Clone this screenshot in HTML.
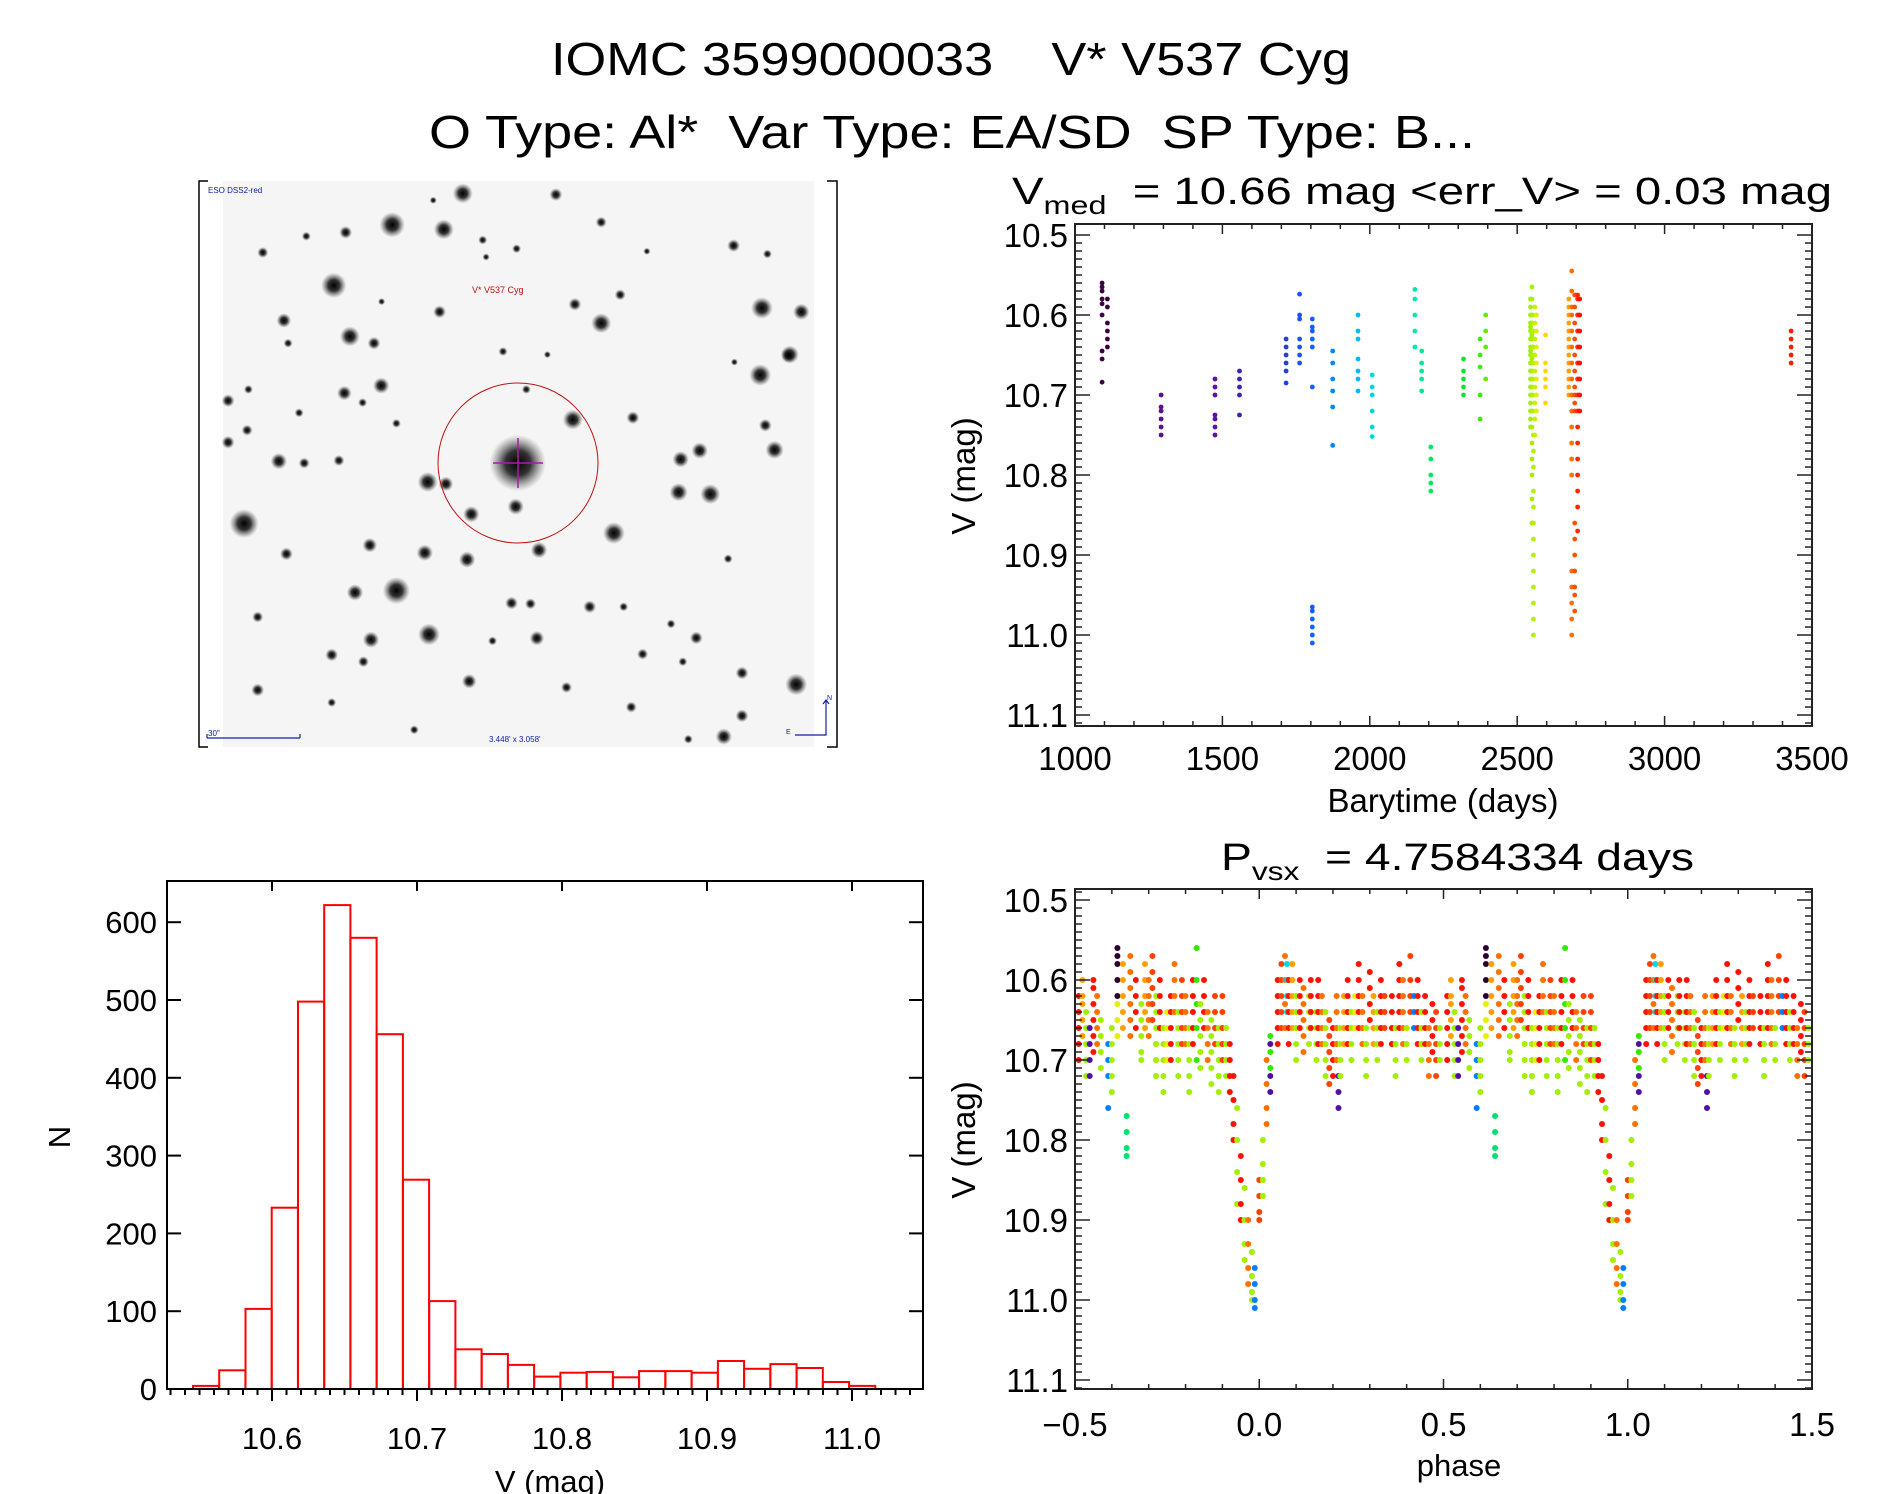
<!DOCTYPE html>
<html><head><meta charset="utf-8"><style>
html,body{margin:0;padding:0;background:#fff;}
svg{display:block;font-family:"Liberation Sans",sans-serif;}
</style></head><body>
<svg id="root" width="1889" height="1494" viewBox="0 0 1889 1494" xmlns="http://www.w3.org/2000/svg">
<defs>
<radialGradient id="starG"><stop offset="0" stop-color="#000" stop-opacity="1"/><stop offset="0.45" stop-color="#111" stop-opacity="0.85"/><stop offset="1" stop-color="#555" stop-opacity="0"/></radialGradient>
</defs>
<text x="551" y="75" font-size="46" textLength="800" lengthAdjust="spacingAndGlyphs">IOMC 3599000033&#160;&#160;&#160;&#160;V* V537 Cyg</text>
<text x="429" y="148" font-size="46" textLength="1046" lengthAdjust="spacingAndGlyphs">O Type: Al*&#160;&#160;Var Type: EA/SD&#160;&#160;SP Type: B...</text>
<g id="img"></g>
<g id="lc"></g>
<g id="hist"></g>
<g id="ph"></g>
</svg>
<script>
// ---------- data ----------
const lcGroupTimes = [1092,1110,1292,1475,1558,1716,1762,1805,1805,1874,1960,2008,2153,2176,2207,2318,2374,2393,2545,2550,2555,2560,2565,2596,2675,2685,2695,2705,2712,3429];
const lcGroupMags = [
 [10.56,10.565,10.57,10.58,10.586,10.60,10.645,10.655,10.684],
 [10.58,10.59,10.61,10.62,10.63,10.64],
 [10.70,10.715,10.72,10.73,10.74,10.75],
 [10.68,10.69,10.70,10.725,10.73,10.74,10.75],
 [10.67,10.68,10.69,10.70,10.725],
 [10.63,10.64,10.65,10.66,10.67,10.685],
 [10.574,10.60,10.605,10.63,10.64,10.65,10.66],
 [10.605,10.615,10.62,10.63,10.64,10.69],
 [10.965,10.97,10.98,10.99,11.0,11.01],
 [10.645,10.66,10.68,10.695,10.715,10.763],
 [10.60,10.62,10.63,10.655,10.67,10.68,10.695],
 [10.675,10.69,10.70,10.72,10.74,10.752],
 [10.568,10.58,10.60,10.62,10.64],
 [10.645,10.66,10.67,10.68,10.695],
 [10.765,10.78,10.80,10.81,10.82],
 [10.655,10.67,10.68,10.69,10.70],
 [10.63,10.65,10.665,10.70,10.73],
 [10.60,10.62,10.64,10.68],
 [10.58,10.59,10.6,10.61,10.615,10.62,10.63,10.64,10.645,10.65,10.66,10.67,10.68,10.69,10.7,10.71,10.72,10.73,10.74],
 [10.565,10.58,10.6,10.61,10.62,10.625,10.63,10.64,10.65,10.655,10.66,10.67,10.68,10.69,10.7,10.72,10.74,10.76,10.78,10.8,10.83,10.86],
 [10.6,10.62,10.64,10.66,10.68,10.7,10.72,10.75,10.77,10.79,10.82,10.84,10.86,10.88,10.9,10.92,10.94,10.96,10.98,11.0],
 [10.59,10.61,10.63,10.65,10.67,10.69,10.71,10.73,10.75],
 [10.6,10.62,10.64,10.66,10.68,10.7,10.72],
 [10.625,10.66,10.67,10.68,10.69,10.71],
 [10.58,10.59,10.6,10.61,10.62,10.63,10.64,10.65,10.66,10.67,10.68,10.69,10.7],
 [10.545,10.57,10.59,10.6,10.62,10.64,10.66,10.68,10.7,10.72,10.74,10.76,10.78,10.8,10.92,10.94,10.96,10.98,11.0],
 [10.575,10.59,10.61,10.63,10.65,10.67,10.69,10.7,10.71,10.72,10.86,10.88,10.9,10.92,10.94,10.95,10.97],
 [10.575,10.58,10.6,10.62,10.64,10.66,10.68,10.7,10.72,10.74,10.76,10.78,10.8,10.82,10.84,10.87],
 [10.58,10.6,10.62,10.64,10.66,10.68,10.7,10.72],
 [10.62,10.63,10.64,10.65,10.66]
];
const lcGroupColor = ["#3a0040","#3a0040","#5a1090","#6010a0","#4020b0","#2040e0","#2050f0","#1060ff","#1060ff","#0088ff","#00b8ff","#00d8e0","#00e8b0","#00e890","#00e860","#10e830","#40e810","#60e800","#9ef000","#a8f000","#b0f000","#c8f000","#e0f000","#ffd800","#ffa000","#ff7000","#ff5000","#ff2800","#ff1000","#ff1a00"];
const lcXTicks = [1000,1500,2000,2500,3000,3500];
const magTicks = [10.5,10.6,10.7,10.8,10.9,11.0,11.1];
const magTickLabels = ["10.5","10.6","10.7","10.8","10.9","11.0","11.1"];

const phPalette = ["#2a0030","#5010a0","#2030e0","#0080ff","#00d8e8","#00e070","#30e800","#a0f000","#e8f000","#ffa000","#ff7000","#ff4000","#ff1000"];
const phStreakPhase = [-0.49,-0.48,-0.47,-0.46,-0.45,-0.44,-0.43,-0.41,-0.40,-0.385,-0.385,-0.37,-0.36,-0.35,-0.335,-0.32,-0.31,-0.30,-0.29,-0.28,-0.27,-0.26,-0.25,-0.24,-0.23,-0.22,-0.21,-0.20,-0.19,-0.18,-0.17,-0.16,-0.15,-0.14,-0.13,-0.12,-0.11,-0.10,-0.09,-0.08,-0.07,-0.06,-0.05,-0.04,-0.03,-0.02,-0.012,0.0,0.01,0.02,0.03,0.03,0.05,0.06,0.07,0.075,0.08,0.09,0.10,0.11,0.12,0.135,0.14,0.155,0.16,0.17,0.18,0.19,0.20,0.21,0.215,0.22,0.23,0.24,0.25,0.26,0.27,0.28,0.29,0.30,0.31,0.32,0.33,0.34,0.36,0.37,0.38,0.39,0.40,0.41,0.42,0.43,0.44,0.45,0.46,0.47,0.48,0.49];
const phStreakMags = [
[10.62,10.64,10.66,10.68,10.7],[10.6,10.62,10.63,10.65,10.67],[10.64,10.66,10.68,10.7,10.72],[10.66,10.68,10.7,10.72],
[10.6,10.61,10.63,10.65,10.67,10.69],[10.62,10.64,10.66,10.68],[10.65,10.67,10.69,10.71],[10.68,10.7,10.72,10.76],
[10.66,10.68,10.7,10.72,10.74],[10.56,10.57,10.58,10.6,10.62],[10.63,10.65,10.67],[10.58,10.6,10.62,10.64,10.66],
[10.77,10.79,10.81,10.82],[10.57,10.59,10.61,10.63,10.65,10.67],[10.6,10.62,10.64,10.66],[10.63,10.65,10.67,10.69,10.7],
[10.58,10.6,10.62,10.64,10.66],[10.6,10.62,10.63,10.65,10.67],[10.57,10.59,10.61,10.63,10.65],[10.62,10.64,10.66,10.68,10.7,10.72],
[10.6,10.62,10.64,10.66],[10.66,10.68,10.7,10.72,10.74],[10.64,10.66,10.68,10.7],[10.62,10.64,10.66,10.68,10.7],
[10.58,10.6,10.62,10.64],[10.64,10.66,10.68,10.7,10.72],[10.6,10.62,10.64,10.66,10.68],[10.62,10.64,10.66,10.68],
[10.66,10.68,10.7,10.72,10.74],[10.6,10.62,10.64,10.66,10.68],[10.56,10.6,10.63,10.66,10.7],[10.63,10.65,10.67,10.69,10.71],
[10.6,10.62,10.64,10.66],[10.64,10.66,10.68,10.7],[10.65,10.67,10.69,10.71,10.73],[10.62,10.64,10.66,10.68],
[10.66,10.68,10.7,10.72,10.74],[10.62,10.64,10.66,10.68,10.7],[10.66,10.68,10.7,10.72],[10.68,10.7,10.72,10.74],
[10.72,10.75,10.78,10.8],[10.76,10.8,10.84,10.88],[10.82,10.85,10.88,10.9],[10.86,10.9,10.93,10.95],
[10.9,10.93,10.96,10.98],[10.94,10.97,10.99,11.0],[10.96,10.98,11.0,11.01],[10.85,10.87,10.89,10.9],
[10.8,10.83,10.85,10.87],[10.7,10.73,10.76,10.78],[10.67,10.69,10.71],[10.68,10.72,10.74],
[10.6,10.62,10.64,10.66,10.68],[10.58,10.6,10.62,10.64,10.66],[10.57,10.6,10.63,10.66],[10.58,10.6,10.62,10.64],
[10.6,10.62,10.64,10.66,10.68],[10.58,10.6,10.62,10.64,10.66],[10.62,10.64,10.66,10.68,10.7],[10.6,10.62,10.64,10.66],
[10.61,10.63,10.65,10.67,10.69],[10.62,10.64,10.66,10.68],[10.6,10.62,10.64,10.66],[10.64,10.66,10.68,10.7],
[10.6,10.62,10.64,10.66,10.68],[10.62,10.64,10.66,10.68],[10.64,10.66,10.68,10.7,10.72],[10.65,10.67,10.69,10.71,10.73],
[10.66,10.68,10.7,10.72],[10.62,10.64,10.66,10.68,10.7],[10.72,10.74,10.76],[10.66,10.68,10.7,10.72],
[10.62,10.64,10.66,10.68],[10.6,10.62,10.64,10.66,10.68],[10.64,10.66,10.68,10.7],[10.62,10.64,10.66],
[10.58,10.6,10.62,10.64,10.66],[10.62,10.64,10.66,10.68],[10.66,10.68,10.7,10.72],[10.59,10.61,10.63,10.65],
[10.62,10.64,10.66,10.68],[10.64,10.66,10.68,10.7],[10.6,10.62,10.64,10.66,10.68],[10.62,10.64,10.66],
[10.62,10.64,10.66,10.68],[10.66,10.68,10.7,10.72],[10.58,10.6,10.62,10.64,10.66],[10.6,10.62,10.64,10.66,10.68],
[10.66,10.68,10.7],[10.57,10.6,10.62,10.64],[10.62,10.64,10.66],[10.6,10.62,10.64,10.66,10.68],
[10.64,10.66,10.68,10.7],[10.62,10.64,10.66,10.68],[10.66,10.68,10.7,10.72],[10.63,10.65,10.67,10.69],
[10.64,10.66,10.68,10.7,10.72],[10.66,10.68,10.7]
];
const phStreakColor = [12,9,7,1,12,10,7,3,7,0,8,9,5,10,12,7,9,10,11,7,12,7,8,12,10,7,11,10,7,12,6,7,12,10,7,11,7,11,7,12,12,7,12,7,10,7,3,11,7,10,6,1,12,11,10,4,12,9,7,12,10,7,12,7,12,10,7,11,12,10,1,7,9,12,7,8,12,10,7,12,9,7,12,11,12,7,12,10,7,11,3,12,7,12,10,12,11,7];
const phXTicks = [-0.5,0.0,0.5,1.0,1.5];
const phXTickLabels = ["\u22120.5","0.0","0.5","1.0","1.5"];

const histStart = 10.5455, histWidth = 0.0181;
const histCounts = [4,24,103,233,498,622,580,456,269,113,51,45,31,16,21,22,15,23,23,21,36,26,32,27,9,4];
const histXTicks = [10.6,10.7,10.8,10.9,11.0];
const histXTickLabels = ["10.6","10.7","10.8","10.9","11.0"];
const histYTicks = [0,100,200,300,400,500,600];

// ---------- helpers ----------
const NS="http://www.w3.org/2000/svg";
function mk(tag, parent){const e=document.createElementNS(NS,tag);parent.appendChild(e);return e;}
function line(p,x1,y1,x2,y2,col,w){const l=mk('line',p);l.setAttribute('x1',x1);l.setAttribute('y1',y1);l.setAttribute('x2',x2);l.setAttribute('y2',y2);l.setAttribute('stroke',col);l.setAttribute('stroke-width',w);return l;}
function txt(p,x,y,s,size,anchor){const t=mk('text',p);t.setAttribute('x',x);t.setAttribute('y',y);t.setAttribute('font-size',size);t.setAttribute('text-anchor',anchor||'start');t.textContent=s;return t;}
function frame(p,x0,y0,x1,y1,w,col){const r=mk('rect',p);r.setAttribute('x',x0);r.setAttribute('y',y0);r.setAttribute('width',x1-x0);r.setAttribute('height',y1-y0);r.setAttribute('fill','none');r.setAttribute('stroke',col);r.setAttribute('stroke-width',w);return r;}

// ---------- sky image ----------
(function(){
 const g=document.getElementById('img');
 const bg=mk('rect',g);bg.setAttribute('x',223);bg.setAttribute('y',181);bg.setAttribute('width',591);bg.setAttribute('height',566);bg.setAttribute('fill','#f5f5f5');
 
 
 const fl=mk('path',g);fl.setAttribute('d','M208 181 H199 V747 H208 M827 181 H837 V747 H827');fl.setAttribute('fill','none');fl.setAttribute('stroke','#000');fl.setAttribute('stroke-width',1.5);
 
 
 const stars=[[645,62,22],[478,145,28],[600,157,22],[865,65,14],[972,138,12],[340,305,28],[368,165,14],[275,175,10],[172,218,12],[692,185,10],[772,208,10],[700,230,8],[1285,200,14],[1365,222,10],[1080,215,8],[1352,365,24],[1445,375,18],[1017,330,12],[910,355,14],[972,405,22],[590,375,14],[453,348,8],[222,398,16],[378,440,22],[435,458,14],[232,458,10],[1418,488,20],[1348,542,24],[740,480,10],[845,488,8],[1287,508,8],[365,590,16],[452,570,18],[408,615,10],[138,580,10],[90,610,14],[258,642,10],[135,688,12],[90,720,14],[488,670,10],[795,580,10],[1047,655,14],[1360,675,14],[905,660,22],[1205,742,18],[1160,765,18],[1382,740,20],[210,770,18],[270,775,12],[352,768,12],[562,825,22],[605,830,16],[1155,852,20],[1230,857,22],[770,890,18],[665,910,18],[1002,960,24],[128,935,32],[425,992,16],[555,1012,18],[655,1030,18],[825,1005,18],[228,1015,14],[1272,1028,10],[488,1112,30],[390,1117,18],[760,1145,14],[805,1147,12],[945,1155,14],[1025,1155,10],[160,1182,12],[1137,1200,10],[565,1228,24],[428,1242,18],[820,1238,16],[715,1245,10],[1197,1237,14],[335,1282,14],[410,1300,12],[1070,1280,12],[1165,1300,10],[1305,1330,14],[660,1352,16],[890,1368,12],[160,1375,14],[1433,1360,24],[335,1408,10],[1043,1420,12],[1305,1443,14],[530,1480,10],[1262,1498,18],[1178,1505,10],[575,80,8],[1415,490,16],[775,775,62]];
 stars.forEach(s=>{
  const c=mk('circle',g);c.setAttribute('cx',(190+s[0]/2.364).toFixed(1));c.setAttribute('cy',(170+s[1]/2.644).toFixed(1));c.setAttribute('r',(s[2]/2.2).toFixed(1));c.setAttribute('fill','url(#starG)');
  
  
 });
 const cx=518,cy=463;
 const circ=mk('ellipse',g);circ.setAttribute('cx',cx);circ.setAttribute('cy',cy);circ.setAttribute('rx',80);circ.setAttribute('ry',80);circ.setAttribute('fill','none');circ.setAttribute('stroke','#c01010');circ.setAttribute('stroke-width',1);
 
 
 line(g,cx-25,cy,cx+25,cy,'#a020a0',1.5);line(g,cx,cy-25,cx,cy+25,'#a020a0',1.5);
 let t=txt(g,208,193,'ESO DSS2-red',8);t.setAttribute('fill','#1020a0');
 
 
 t=txt(g,472,293,'V* V537 Cyg',9);t.setAttribute('fill','#c01010');
 
 
 t=txt(g,489,742,"3.448' x 3.058'",8);t.setAttribute('fill','#1020a0');
 
 
 t=txt(g,208,736,'30"',8);t.setAttribute('fill','#1020a0');
 
 
 line(g,207,738,300,738,'#1020a0',1.2);line(g,207,734,207,738,'#1020a0',1.2);line(g,300,734,300,738,'#1020a0',1.2);
 const cp=mk('path',g);cp.setAttribute('d','M795 735 H826 V700 M823 704 L826 700 L829 704');cp.setAttribute('fill','none');cp.setAttribute('stroke','#1020a0');cp.setAttribute('stroke-width',1.2);
 
 
 t=txt(g,827,700,'N',7);t.setAttribute('fill','#1020a0');
 t=txt(g,786,734,'E',7);t.setAttribute('fill','#1020a0');
})();

// ---------- light curve ----------
(function(){
 const g=document.getElementById('lc');
 const X0=1075,X1=1812,Y0=224,Y1=726;
 const xT=t=>X0+(t-1000)/2500*(X1-X0);
 const yM=m=>235+(m-10.5)*800;
 lcGroupTimes.forEach((t,i)=>{
  lcGroupMags[i].forEach(m=>{
   const c=mk('circle',g);c.setAttribute('cx',xT(t).toFixed(1));c.setAttribute('cy',yM(m).toFixed(1));c.setAttribute('r',2.4);c.setAttribute('fill',lcGroupColor[i]);
   
   
  });
 });
 const f=frame(g,X0,Y0,X1,Y1,2,'#222');
 
 
 for(let t=1000;t<=3500;t+=100){const x=xT(t);const L=(t%500===0)?10:5;line(g,x,Y1,x,Y1-L,'#222',1.5);line(g,x,Y0,x,Y0+L,'#222',1.5);}
 for(let k=0;k<=61;k++){const m=10.5+k*0.01;const y=yM(m);if(y<Y0||y>Y1)continue;const L=(k%10===0)?15:7;line(g,X0,y,X0+L,y,'#222',1.5);line(g,X1,y,X1-L,y,'#222',1.5);}
 lcXTicks.forEach(t=>{const tx=txt(g,xT(t),770,String(t),33,'middle');
  
  });
 magTicks.forEach((m,i)=>{const tx=txt(g,1068,yM(m)+12,magTickLabels[i],33,'end');
  
  });
 let t=txt(g,1443,812,'Barytime (days)',33,'middle');
 
 
 t=txt(g,0,0,'V (mag)',33,'middle');t.setAttribute('transform','translate(975,476) rotate(-90)');
 
 
 t=mk('text',g);t.setAttribute('x',1012);t.setAttribute('y',204);t.setAttribute('font-size',38);t.setAttribute('textLength',820);t.setAttribute('lengthAdjust','spacingAndGlyphs');
 t.innerHTML='V<tspan font-size="26" dy="10">med</tspan><tspan dy="-10">&#160; = 10.66 mag &lt;err_V&gt; = 0.03 mag</tspan>';
 
 
})();

// ---------- histogram ----------
(function(){
 const g=document.getElementById('hist');
 const X0=167,X1=923,Y0=881,Y1=1389;
 const xH=v=>272+(v-10.6)*1450;
 const yH=n=>Y1-n*0.778;
 histCounts.forEach((n,i)=>{
  const a=histStart+i*histWidth,b=a+histWidth;
  const r=mk('rect',g);r.setAttribute('x',xH(a).toFixed(1));r.setAttribute('y',yH(n).toFixed(1));r.setAttribute('width',(xH(b)-xH(a)).toFixed(1));r.setAttribute('height',(Y1-yH(n)).toFixed(1));r.setAttribute('fill','none');r.setAttribute('stroke','#ff0000');r.setAttribute('stroke-width',2);
  
  
 });
 const f=frame(g,X0,Y0,X1,Y1,2,'#000');
 
 
 for(let k=-7;k<=45;k++){const v=10.6+k*0.01;const x=xH(v);if(x<X0||x>X1)continue;const maj=(k%10===0);line(g,x,Y1,x,Y1+(maj?12:6),'#000',2);if(maj)line(g,x,Y0,x,Y0+10,'#000',2);}
 histYTicks.forEach(n=>{const y=yH(n);line(g,X0,y,X0+14,y,'#000',2);line(g,X1,y,X1-14,y,'#000',2);
  const tx=txt(g,157,y+11,String(n),31,'end');
  
  });
 histXTicks.forEach((v,i)=>{const tx=txt(g,xH(v),1449,histXTickLabels[i],31,'middle');
  
  });
 let t=txt(g,550,1492,'V (mag)',31,'middle');
 
 
 t=txt(g,0,0,'N',31,'middle');t.setAttribute('transform','translate(70,1137) rotate(-90)');
 
 
})();

// ---------- phase plot ----------
(function(){
 const g=document.getElementById('ph');
 const X0=1075,X1=1812,Y0=889,Y1=1389;
 const xP=p=>X0+(p+0.5)/2*(X1-X0);
 const yM=m=>900+(m-10.5)*800;
 [0,1].forEach(off=>{
  phStreakPhase.forEach((p,i)=>{
   phStreakMags[i].forEach(m=>{
    const c=mk('circle',g);c.setAttribute('cx',xP(p+off).toFixed(1));c.setAttribute('cy',yM(m).toFixed(1));c.setAttribute('r',3);c.setAttribute('fill',phPalette[phStreakColor[i]]);
    
    
   });
  });
 });
 const f=frame(g,X0,Y0,X1,Y1,2,'#222');
 
 
 for(let k=0;k<=20;k++){const x=xP(-0.5+k*0.1);const L=(k%5===0)?10:5;line(g,x,Y1,x,Y1-L,'#222',1.5);line(g,x,Y0,x,Y0+L,'#222',1.5);}
 for(let k=-1;k<=61;k++){const m=10.5+k*0.01;const y=yM(m);if(y<Y0||y>Y1)continue;const L=(((k%10)+10)%10===0)?15:7;line(g,X0,y,X0+L,y,'#222',1.5);line(g,X1,y,X1-L,y,'#222',1.5);}
 phXTicks.forEach((p,i)=>{const tx=txt(g,xP(p),1436,phXTickLabels[i],33,'middle');
  
  });
 magTicks.forEach((m,i)=>{const tx=txt(g,1068,yM(m)+12,magTickLabels[i],33,'end');
  
  });
 let t=txt(g,1459,1476,'phase',31,'middle');
 
 
 t=txt(g,0,0,'V (mag)',33,'middle');t.setAttribute('transform','translate(975,1140) rotate(-90)');
 
 
 t=mk('text',g);t.setAttribute('x',1221);t.setAttribute('y',870);t.setAttribute('font-size',38);t.setAttribute('textLength',473);t.setAttribute('lengthAdjust','spacingAndGlyphs');
 t.innerHTML='P<tspan font-size="26" dy="10">vsx</tspan><tspan dy="-10">&#160; = 4.7584334 days</tspan>';
 
 
})();
</script>
</body></html>
